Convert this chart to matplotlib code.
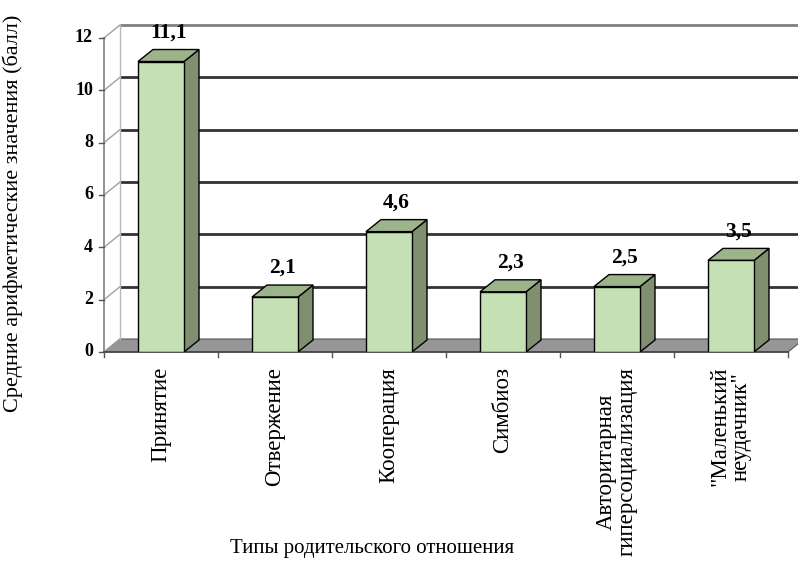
import matplotlib
matplotlib.use("Agg")
import matplotlib.pyplot as plt
from matplotlib.patches import Polygon

categories = ["Принятие", "Отвержение", "Кооперация", "Симбиоз",
              "Авторитарная\nгиперсоциализация", "\"Маленький\nнеудачник\""]
values = [11.1, 2.1, 4.6, 2.3, 2.5, 3.5]
value_labels = ["11,1", "2,1", "4,6", "2,3", "2,5", "3,5"]
yticks = [0, 2, 4, 6, 8, 10, 12]

plt.rcParams['font.family'] = ['Liberation Serif', 'DejaVu Serif']

# pixel scale of the front plane
PX_X = 114.0   # px per category
PX_Y = 26.17   # px per value unit
px = lambda p: p / PX_X
py = lambda p: p / PX_Y

dx, dy = px(16), py(13)       # depth of the walls
bdx, bdy = px(15), py(12)     # depth of the bars
bw = px(46)                   # bar front width
n = len(categories)

fig = plt.figure(figsize=(7.98, 5.63), dpi=100)
ax = fig.add_axes([104 / 798, (563 - 352) / 563, 694 / 798, 327 / 563])
ax.set_xlim(0, 694 / PX_X)
ax.set_ylim(0, 327 / PX_Y)
ax.axis('off')

xend = n
# floor
ax.add_patch(Polygon([(0, 0), (xend, 0), (xend + dx, dy), (dx, dy)],
                     closed=True, facecolor='#969696', edgecolor='#555555',
                     lw=0.8, clip_on=False, zorder=1))

# back wall gridlines and left wall diagonals
for t in yticks:
    if t == 0:
        continue
    col = '#808080' if t == 12 else '#333333'
    ax.plot([dx, xend + dx + 1], [t + dy, t + dy], color=col, lw=2,
            clip_on=False, zorder=1, solid_capstyle='butt')
for t in yticks:
    ax.plot([0, dx], [t, t + dy], color='#a0a0a0', lw=1, clip_on=False, zorder=1)
ax.plot([dx, dx], [dy, 12 + dy], color='#b8b8b8', lw=1, clip_on=False, zorder=1)

# front left axis with ticks
ax.plot([0, 0], [0, 12], color='#8a8a8a', lw=1.3, clip_on=False, zorder=2)
for t in yticks:
    ax.plot([-px(5), 0], [t, t], color='#555555', lw=1, clip_on=False, zorder=2)
    ax.text(-px(11), t, str(t), ha='right', va='center', fontsize=13,
            fontweight='bold')

# front x axis with ticks
ax.plot([0, xend], [0, 0], color='#444444', lw=1.2, clip_on=False, zorder=2)
for i in range(n + 1):
    ax.plot([i, i], [0, -py(5)], color='#555555', lw=1, clip_on=False, zorder=2)

# bars
for i, v in enumerate(values):
    c = i + 0.5
    x0, x1 = c - bw / 2, c + bw / 2
    ax.add_patch(Polygon([(x1, 0), (x1 + bdx, bdy), (x1 + bdx, v + bdy), (x1, v)],
                         closed=True, facecolor='#7f8f70', edgecolor='black',
                         lw=1, zorder=3))
    ax.add_patch(Polygon([(x0, v), (x1, v), (x1 + bdx, v + bdy), (x0 + bdx, v + bdy)],
                         closed=True, facecolor='#9db38a', edgecolor='black',
                         lw=1, zorder=3))
    ax.add_patch(Polygon([(x0, 0), (x1, 0), (x1, v), (x0, v)],
                         closed=True, facecolor='#c4e0b4', edgecolor='black',
                         lw=1, zorder=4))
    ax.text(c + bdx / 2, v + bdy + py(7), value_labels[i], ha='center',
            va='bottom', fontsize=15.5, fontweight='bold', zorder=5)
    ax.text(c, -py(15), categories[i], rotation=90, ha='center', va='top',
            multialignment='center', fontsize=16.5, linespacing=1.0, zorder=5)

fig.text(372 / 798, 1 - 548 / 563, "Типы родительского отношения",
         ha='center', va='center', fontsize=15)
fig.text(13 / 798, 1 - 213 / 563, "Средние арифметические значения (балл)",
         ha='center', va='center', rotation=90, fontsize=16)

fig.savefig("out.png", dpi=100)
